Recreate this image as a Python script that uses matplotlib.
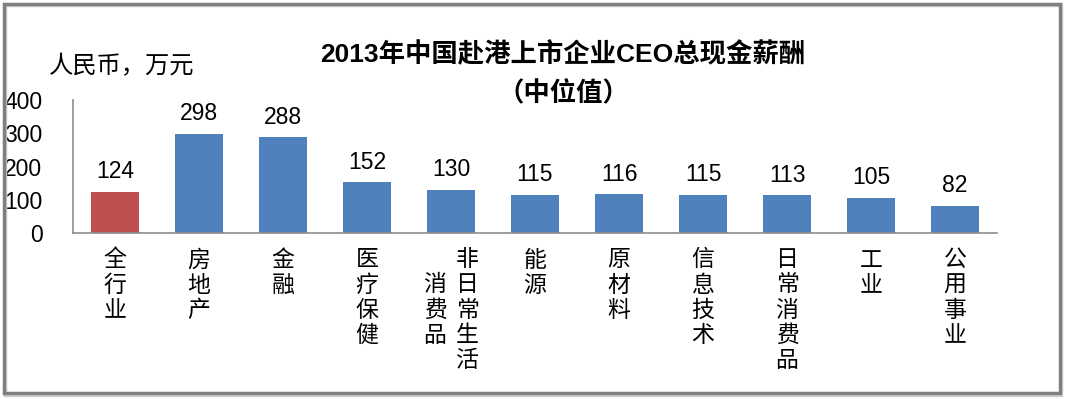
import matplotlib
matplotlib.use("Agg")
import matplotlib.pyplot as plt
from matplotlib.patches import Rectangle

categories = ["全行业", "房地产", "金融", "医疗保健", "非日常生活消费品", "能源",
              "原材料", "信息技术", "日常消费品", "工业", "公用事业"]
values = [124, 298, 288, 152, 130, 115, 116, 115, 113, 105, 82]
value_labels = ["124", "298", "288", "152", "130", "115", "116", "115", "113", "105", "82"]
yticks = [0, 100, 200, 300, 400]
title = "2013年中国赴港上市企业CEO总现金薪酬\n（中位值）"
ylabel = "人民币，万元"

LAT = ["Liberation Sans", "Noto Sans CJK SC", "DejaVu Sans"]
CJK = ["Noto Sans CJK SC", "DejaVu Sans"]
plt.rcParams["font.family"] = LAT

W, H = 1066, 399
fig = plt.figure(figsize=(W / 100, H / 100), dpi=100)
fig.patch.set_facecolor("white")

# border with light shadow
fig.patches.append(Rectangle((5 / W, 1 - 395 / H), 1056 / W, 390 / H, transform=fig.transFigure,
                             fill=False, edgecolor="#d0d0d0", lw=2.5, zorder=0))
fig.patches.append(Rectangle((3.5 / W, 1 - 393 / H), 1056 / W, 389 / H, transform=fig.transFigure,
                             fill=False, edgecolor="#7f7f7f", lw=2.5, zorder=1))

ax = fig.add_axes([73 / W, 1 - 233 / H, 924 / W, 133 / H])
colors = ["#C0504D"] + ["#4F81BD"] * (len(values) - 1)
x = list(range(len(categories)))
ax.bar(x, values, width=0.57, color=colors, zorder=2)
ax.set_xlim(-0.5, len(categories) - 0.5)
ax.set_ylim(0, 400)
ax.set_yticks(yticks)
ax.set_yticklabels([str(t) for t in yticks], fontsize=16.5, family=LAT)
ax.tick_params(axis="y", length=0, pad=22)
ax.set_xticks([])
for s in ["top", "right"]:
    ax.spines[s].set_visible(False)
for s in ["left", "bottom"]:
    ax.spines[s].set_color("#8c8c8c")
    ax.spines[s].set_linewidth(1.2)

for xi, v, lab in zip(x, values, value_labels):
    ax.annotate(lab, xy=(xi, v), xytext=(0, 14.5), textcoords="offset points",
                ha="center", va="center", fontsize=16.5, family=LAT)

# vertical category labels (columns of up to 5 chars, right to left)
lh = 18.0  # points per char row
top_off = 10.5
col_sp = 23.0
for xi, lab in zip(x, categories):
    cols = [lab[i:i + 5] for i in range(0, len(lab), 5)]
    n = len(cols)
    maxlen = max(len(c) for c in cols)
    cy = -(top_off + maxlen * lh / 2)
    for j, c in enumerate(cols):
        dx = ((n - 1) / 2 - j) * col_sp
        ax.annotate("\n".join(c), xy=(xi, 0), xycoords=("data", "axes fraction"),
                    xytext=(dx, cy), textcoords="offset points",
                    ha="center", va="center", fontsize=16.5, family=CJK,
                    linespacing=1.12, annotation_clip=False)

fig.text(122 / W, 1 - 66 / H, ylabel, ha="center", va="center", fontsize=17.5, family=CJK)
fig.text(563 / W, 1 - 74 / H, title, ha="center", va="center", fontsize=19,
         fontweight="bold", family=LAT, linespacing=1.65)

fig.savefig("out.png", dpi=100, facecolor="white")
